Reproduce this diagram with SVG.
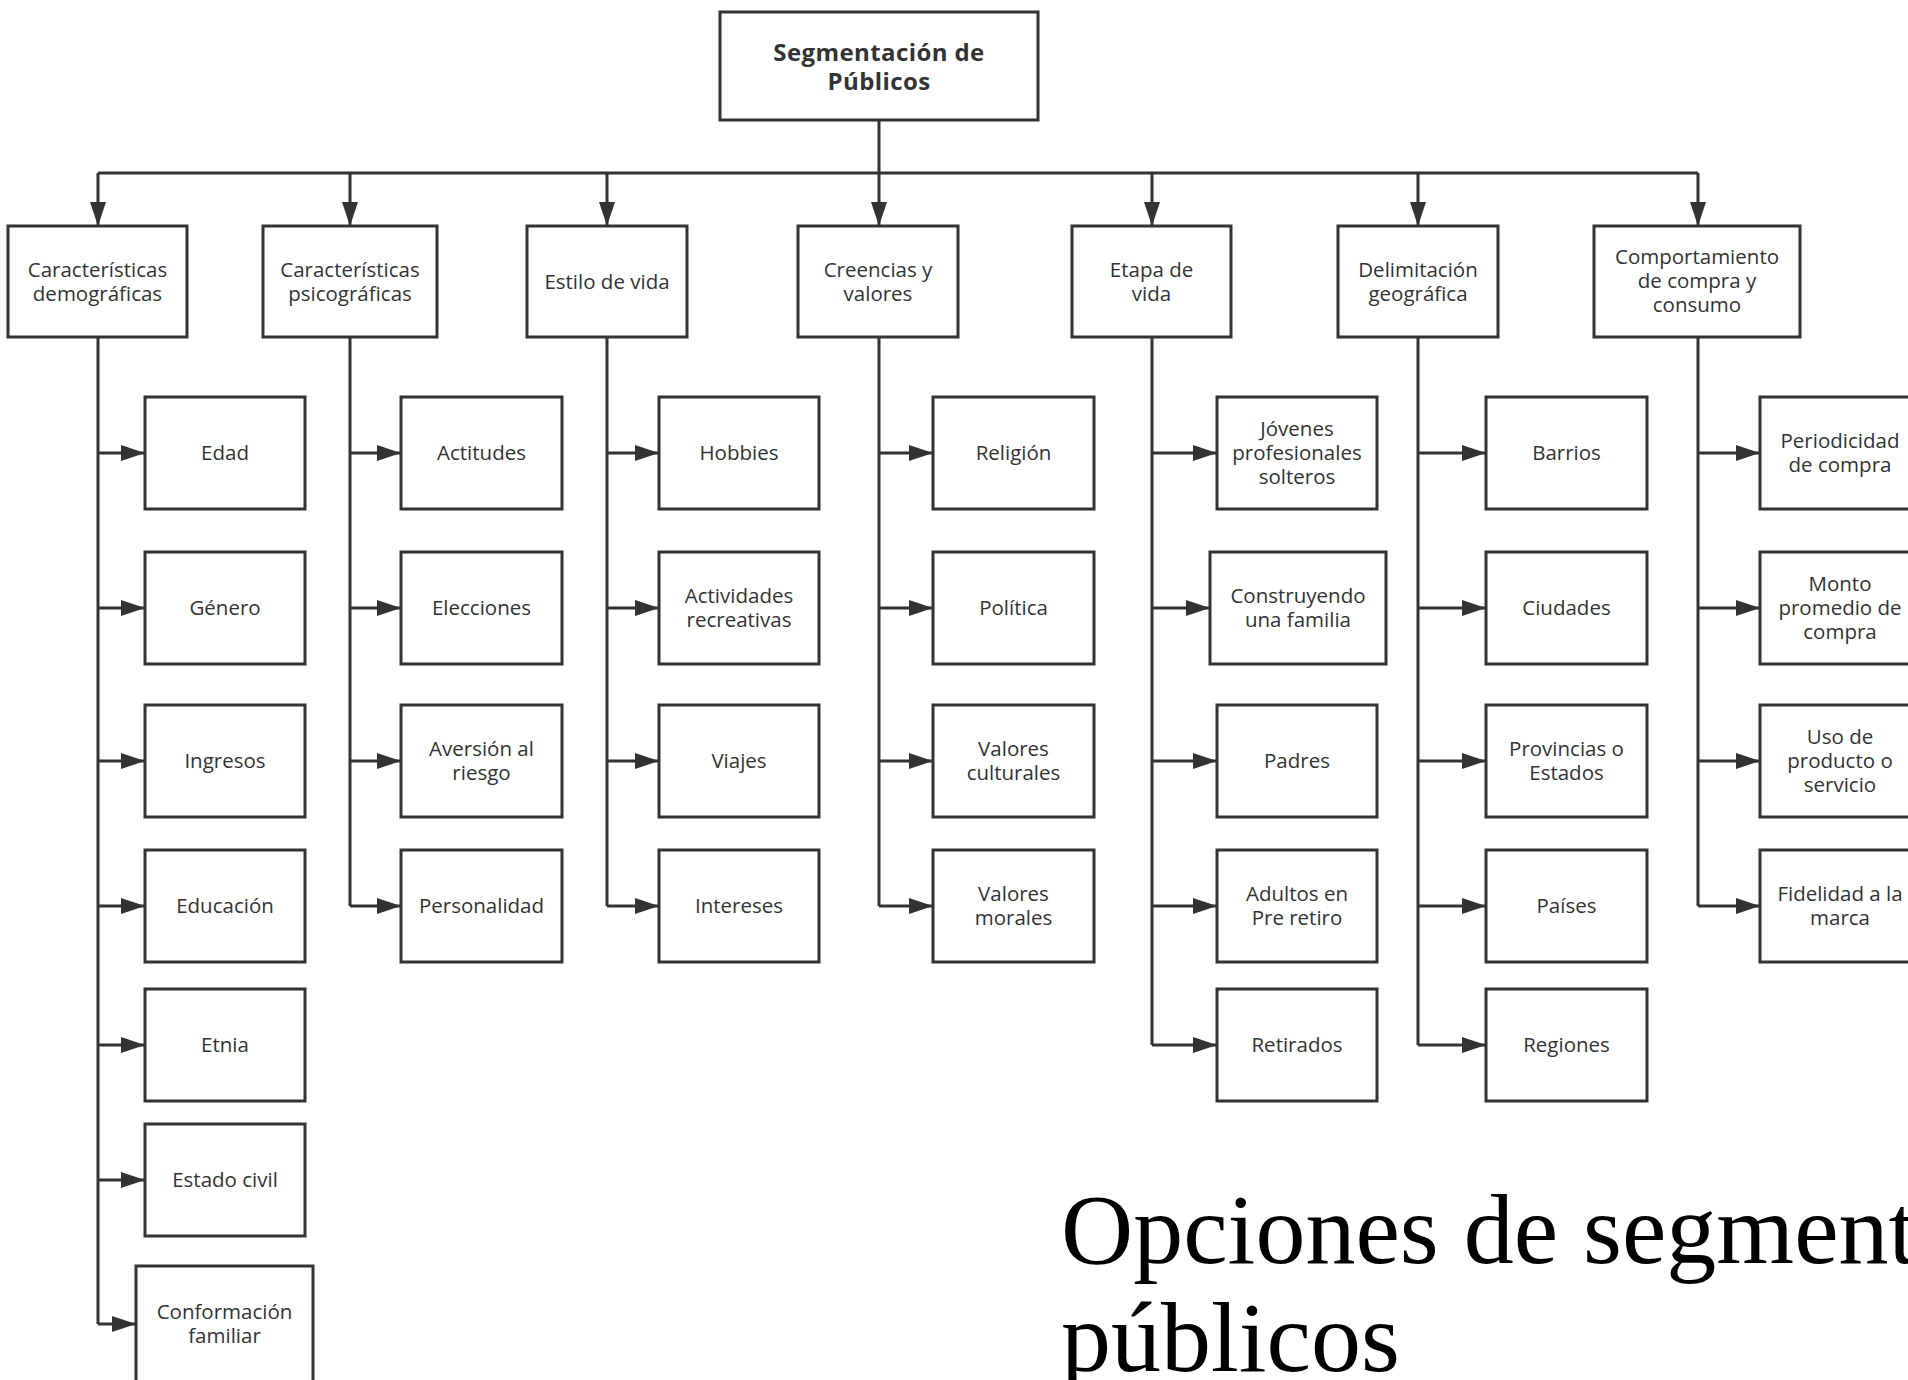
<svg xmlns="http://www.w3.org/2000/svg" width="1908" height="1380" viewBox="0 0 1908 1380">
<style>
.box{fill:#fff;stroke:#333;stroke-width:3}
.ln{fill:none;stroke:#333;stroke-width:3}
.ar{fill:none;stroke:#333;stroke-width:3;marker-end:url(#ah)}
.t{font-family:"Open Sans","Noto Sans",sans-serif;font-size:20.5px;fill:#333;text-anchor:middle}
.root{font-family:"Open Sans","Noto Sans",sans-serif;font-size:24px;font-weight:bold;fill:#333;text-anchor:middle;letter-spacing:0.4px}
.title{font-family:"Liberation Serif","Times New Roman",serif;font-size:100px;fill:#000}
</style>
<defs>
<marker id="ah" markerUnits="userSpaceOnUse" markerWidth="24" markerHeight="16" refX="24" refY="8" orient="auto">
<path d="M0,0 L24,8 L0,16 z" fill="#333"/>
</marker>
</defs>
<rect width="1908" height="1380" fill="#fff"/>

<g id="connectors">
<path class="ln" d="M879 120 V173"/>
<path class="ln" d="M98 173 H1698"/>
<path class="ar" d="M98 173 V226"/>
<path class="ar" d="M350 173 V226"/>
<path class="ar" d="M607 173 V226"/>
<path class="ar" d="M879 173 V226"/>
<path class="ar" d="M1152 173 V226"/>
<path class="ar" d="M1418 173 V226"/>
<path class="ar" d="M1698 173 V226"/>
<!-- group 1 -->
<path class="ln" d="M98 337 V1324"/>
<path class="ar" d="M98 453 H145"/>
<path class="ar" d="M98 608 H145"/>
<path class="ar" d="M98 761 H145"/>
<path class="ar" d="M98 906 H145"/>
<path class="ar" d="M98 1045 H145"/>
<path class="ar" d="M98 1180 H145"/>
<path class="ar" d="M98 1324 H136"/>
<!-- group 2 -->
<path class="ln" d="M350 337 V906"/>
<path class="ar" d="M350 453 H401"/>
<path class="ar" d="M350 608 H401"/>
<path class="ar" d="M350 761 H401"/>
<path class="ar" d="M350 906 H401"/>
<!-- group 3 -->
<path class="ln" d="M607 337 V906"/>
<path class="ar" d="M607 453 H659"/>
<path class="ar" d="M607 608 H659"/>
<path class="ar" d="M607 761 H659"/>
<path class="ar" d="M607 906 H659"/>
<!-- group 4 -->
<path class="ln" d="M879 337 V906"/>
<path class="ar" d="M879 453 H933"/>
<path class="ar" d="M879 608 H933"/>
<path class="ar" d="M879 761 H933"/>
<path class="ar" d="M879 906 H933"/>
<!-- group 5 -->
<path class="ln" d="M1152 337 V1045"/>
<path class="ar" d="M1152 453 H1217"/>
<path class="ar" d="M1152 608 H1210"/>
<path class="ar" d="M1152 761 H1217"/>
<path class="ar" d="M1152 906 H1217"/>
<path class="ar" d="M1152 1045 H1217"/>
<!-- group 6 -->
<path class="ln" d="M1418 337 V1045"/>
<path class="ar" d="M1418 453 H1486"/>
<path class="ar" d="M1418 608 H1486"/>
<path class="ar" d="M1418 761 H1486"/>
<path class="ar" d="M1418 906 H1486"/>
<path class="ar" d="M1418 1045 H1486"/>
<!-- group 7 -->
<path class="ln" d="M1698 337 V906"/>
<path class="ar" d="M1698 453 H1760"/>
<path class="ar" d="M1698 608 H1760"/>
<path class="ar" d="M1698 761 H1760"/>
<path class="ar" d="M1698 906 H1760"/>
</g>

<g id="root"><rect class="box" x="720" y="12" width="318" height="108"/><text class="root" x="879" y="61">Segmentación de</text><text class="root" x="879" y="90">Públicos</text></g>

<g id="n-demograficas"><rect class="box" x="8" y="226" width="179" height="111"/><text class="t" x="97.5" y="277">Características</text><text class="t" x="97.5" y="301">demográficas</text></g>
<g id="n-psicograficas"><rect class="box" x="263" y="226" width="174" height="111"/><text class="t" x="350" y="277">Características</text><text class="t" x="350" y="301">psicográficas</text></g>
<g id="n-estilo"><rect class="box" x="527" y="226" width="160" height="111"/><text class="t" x="607" y="289">Estilo de vida</text></g>
<g id="n-creencias"><rect class="box" x="798" y="226" width="160" height="111"/><text class="t" x="878" y="277">Creencias y</text><text class="t" x="878" y="301">valores</text></g>
<g id="n-etapa"><rect class="box" x="1072" y="226" width="159" height="111"/><text class="t" x="1151.5" y="277">Etapa de</text><text class="t" x="1151.5" y="301">vida</text></g>
<g id="n-geografica"><rect class="box" x="1338" y="226" width="160" height="111"/><text class="t" x="1418" y="277">Delimitación</text><text class="t" x="1418" y="301">geográfica</text></g>
<g id="n-comportamiento"><rect class="box" x="1594" y="226" width="206" height="111"/><text class="t" x="1697" y="264">Comportamiento</text><text class="t" x="1697" y="288">de compra y</text><text class="t" x="1697" y="312">consumo</text></g>

<g id="n-edad"><rect class="box" x="145" y="397" width="160" height="112"/><text class="t" x="225" y="460">Edad</text></g>
<g id="n-genero"><rect class="box" x="145" y="552" width="160" height="112"/><text class="t" x="225" y="615">Género</text></g>
<g id="n-ingresos"><rect class="box" x="145" y="705" width="160" height="112"/><text class="t" x="225" y="768">Ingresos</text></g>
<g id="n-educacion"><rect class="box" x="145" y="850" width="160" height="112"/><text class="t" x="225" y="913">Educación</text></g>
<g id="n-etnia"><rect class="box" x="145" y="989" width="160" height="112"/><text class="t" x="225" y="1052">Etnia</text></g>
<g id="n-estadocivil"><rect class="box" x="145" y="1124" width="160" height="112"/><text class="t" x="225" y="1187">Estado civil</text></g>
<g id="n-conformacion"><rect class="box" x="136" y="1266" width="177" height="116"/><text class="t" x="224.5" y="1319">Conformación</text><text class="t" x="224.5" y="1343">familiar</text></g>

<g id="n-actitudes"><rect class="box" x="401" y="397" width="161" height="112"/><text class="t" x="481.5" y="460">Actitudes</text></g>
<g id="n-elecciones"><rect class="box" x="401" y="552" width="161" height="112"/><text class="t" x="481.5" y="615">Elecciones</text></g>
<g id="n-aversion"><rect class="box" x="401" y="705" width="161" height="112"/><text class="t" x="481.5" y="756">Aversión al</text><text class="t" x="481.5" y="780">riesgo</text></g>
<g id="n-personalidad"><rect class="box" x="401" y="850" width="161" height="112"/><text class="t" x="481.5" y="913">Personalidad</text></g>

<g id="n-hobbies"><rect class="box" x="659" y="397" width="160" height="112"/><text class="t" x="739" y="460">Hobbies</text></g>
<g id="n-actividades"><rect class="box" x="659" y="552" width="160" height="112"/><text class="t" x="739" y="603">Actividades</text><text class="t" x="739" y="627">recreativas</text></g>
<g id="n-viajes"><rect class="box" x="659" y="705" width="160" height="112"/><text class="t" x="739" y="768">Viajes</text></g>
<g id="n-intereses"><rect class="box" x="659" y="850" width="160" height="112"/><text class="t" x="739" y="913">Intereses</text></g>

<g id="n-religion"><rect class="box" x="933" y="397" width="161" height="112"/><text class="t" x="1013.5" y="460">Religión</text></g>
<g id="n-politica"><rect class="box" x="933" y="552" width="161" height="112"/><text class="t" x="1013.5" y="615">Política</text></g>
<g id="n-culturales"><rect class="box" x="933" y="705" width="161" height="112"/><text class="t" x="1013.5" y="756">Valores</text><text class="t" x="1013.5" y="780">culturales</text></g>
<g id="n-morales"><rect class="box" x="933" y="850" width="161" height="112"/><text class="t" x="1013.5" y="901">Valores</text><text class="t" x="1013.5" y="925">morales</text></g>

<g id="n-jovenes"><rect class="box" x="1217" y="397" width="160" height="112"/><text class="t" x="1297" y="436">Jóvenes</text><text class="t" x="1297" y="460">profesionales</text><text class="t" x="1297" y="484">solteros</text></g>
<g id="n-construyendo"><rect class="box" x="1210" y="552" width="176" height="112"/><text class="t" x="1298" y="603">Construyendo</text><text class="t" x="1298" y="627">una familia</text></g>
<g id="n-padres"><rect class="box" x="1217" y="705" width="160" height="112"/><text class="t" x="1297" y="768">Padres</text></g>
<g id="n-adultos"><rect class="box" x="1217" y="850" width="160" height="112"/><text class="t" x="1297" y="901">Adultos en</text><text class="t" x="1297" y="925">Pre retiro</text></g>
<g id="n-retirados"><rect class="box" x="1217" y="989" width="160" height="112"/><text class="t" x="1297" y="1052">Retirados</text></g>

<g id="n-barrios"><rect class="box" x="1486" y="397" width="161" height="112"/><text class="t" x="1566.5" y="460">Barrios</text></g>
<g id="n-ciudades"><rect class="box" x="1486" y="552" width="161" height="112"/><text class="t" x="1566.5" y="615">Ciudades</text></g>
<g id="n-provincias"><rect class="box" x="1486" y="705" width="161" height="112"/><text class="t" x="1566.5" y="756">Provincias o</text><text class="t" x="1566.5" y="780">Estados</text></g>
<g id="n-paises"><rect class="box" x="1486" y="850" width="161" height="112"/><text class="t" x="1566.5" y="913">Países</text></g>
<g id="n-regiones"><rect class="box" x="1486" y="989" width="161" height="112"/><text class="t" x="1566.5" y="1052">Regiones</text></g>

<g id="n-periodicidad"><rect class="box" x="1760" y="397" width="160" height="112"/><text class="t" x="1840" y="448">Periodicidad</text><text class="t" x="1840" y="472">de compra</text></g>
<g id="n-monto"><rect class="box" x="1760" y="552" width="160" height="112"/><text class="t" x="1840" y="591">Monto</text><text class="t" x="1840" y="615">promedio de</text><text class="t" x="1840" y="639">compra</text></g>
<g id="n-uso"><rect class="box" x="1760" y="705" width="160" height="112"/><text class="t" x="1840" y="744">Uso de</text><text class="t" x="1840" y="768">producto o</text><text class="t" x="1840" y="792">servicio</text></g>
<g id="n-fidelidad"><rect class="box" x="1760" y="850" width="160" height="112"/><text class="t" x="1840" y="901">Fidelidad a la</text><text class="t" x="1840" y="925">marca</text></g>

<g id="caption"><text class="title" x="1061" y="1263">Opciones de segmentación de</text><text class="title" x="1061" y="1371">públicos</text></g>
</svg>
